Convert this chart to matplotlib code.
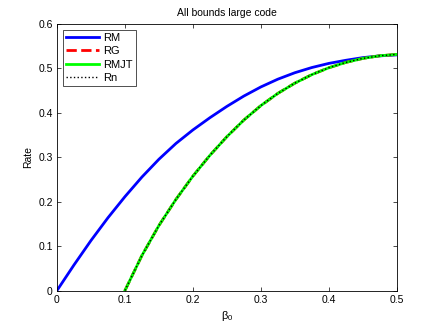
import matplotlib
matplotlib.use("Agg")
import matplotlib.pyplot as plt
from matplotlib.ticker import FuncFormatter

plt.rcParams['font.family'] = ['Liberation Sans', 'DejaVu Sans']
plt.rcParams['mathtext.fontset'] = 'custom'
plt.rcParams['mathtext.rm'] = 'Liberation Sans'
plt.rcParams['mathtext.it'] = 'Liberation Sans'

# values
beta_rm = [0, 0.025, 0.05, 0.075, 0.1, 0.125, 0.15, 0.175, 0.2, 0.225, 0.25,
           0.275, 0.3, 0.325, 0.35, 0.375, 0.4, 0.425, 0.45, 0.475, 0.5]
rate_rm = [0, 0.0575, 0.1125, 0.1638, 0.2113, 0.2555, 0.2955, 0.331, 0.3615, 0.389,
           0.4145, 0.4378, 0.4583, 0.4758, 0.4903, 0.502, 0.5113, 0.5183, 0.5243,
           0.5283, 0.5305]

beta_low = [0.1, 0.125, 0.15, 0.175, 0.2, 0.225, 0.25, 0.275, 0.3, 0.325,
            0.35, 0.375, 0.4, 0.425, 0.45, 0.475, 0.5]
rate_rg = [0, 0.0788, 0.1463, 0.205, 0.2575, 0.3043, 0.3463, 0.3838, 0.4163, 0.4438,
           0.4668, 0.486, 0.5015, 0.5135, 0.5225, 0.5285, 0.5315]
rate_rmjt = list(rate_rg)
rate_rn = list(rate_rg)

fig = plt.figure(figsize=(4.36, 3.28), dpi=100)
ax = fig.add_axes([0.1307, 0.1143, 0.7793, 0.8125])

ax.plot(beta_rm, rate_rm, color='blue', lw=2, label='RM')
ax.plot(beta_low, rate_rg, color='red', lw=2, ls='--', label='RG')
ax.plot(beta_low, rate_rmjt, color='#00ff00', lw=2, label='RMJT')
ax.plot(beta_low, rate_rn, color='black', lw=1, ls=':', label='Rn')

ax.set_xlim(0, 0.5)
ax.set_ylim(0, 0.6)
ax.set_xticks([0, 0.1, 0.2, 0.3, 0.4, 0.5])
ax.set_yticks([0, 0.1, 0.2, 0.3, 0.4, 0.5, 0.6])
fmt = FuncFormatter(lambda v, p: '%g' % round(v, 3))
ax.xaxis.set_major_formatter(fmt)
ax.yaxis.set_major_formatter(fmt)
ax.tick_params(direction='in', top=True, right=True, length=3, width=0.5,
               labelsize=7.5, pad=3)
for s in ax.spines.values():
    s.set_linewidth(0.6)

ax.set_title('All bounds large code', fontsize=7.5, pad=6)
ax.set_xlabel(r'$\mathregular{\beta_0}$', fontsize=8, labelpad=3)
ax.set_ylabel('Rate', fontsize=7.5, labelpad=4)

leg = ax.legend(loc='upper left', fontsize=8, handlelength=3.0, fancybox=False,
                edgecolor='black', borderpad=0.3, labelspacing=0.3,
                handletextpad=0.35, borderaxespad=0.5)
leg.get_frame().set_linewidth(0.6)

fig.savefig('out.png', dpi=100)
